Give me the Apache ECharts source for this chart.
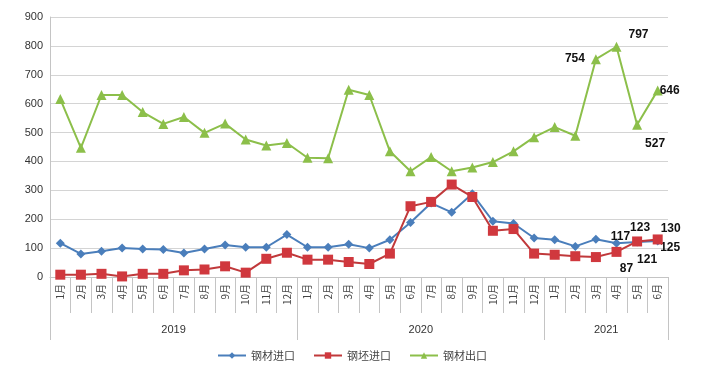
<!DOCTYPE html>
<html>
<head>
<meta charset="utf-8">
<script src="https://cdn.jsdelivr.net/npm/echarts@6/dist/echarts.min.js"></script>
<style>
html,body{margin:0;padding:0;background:#fff;}
#c{width:704px;height:380px;}
</style>
</head>
<body>
<div id="c"></div>
<script>
const months = ['1月','2月','3月','4月','5月','6月','7月','8月','9月','10月','11月','12月',
                '1月','2月','3月','4月','5月','6月','7月','8月','9月','10月','11月','12月',
                '1月','2月','3月','4月','5月','6月'];
const years = ['2019','2020','2021'];
const yearTickPos = [0, 12, 24, 30];
const yearLabelPos = [6, 18, 27];
const yTicks = [0,100,200,300,400,500,600,700,800,900];

const seriesNames = ['钢材进口','钢坯进口','钢材出口'];
const steelImport = [117,80,89,100,97,95,83,97,111,103,103,147,
                     103,103,113,100,129,189,256,224,288,193,185,135,
                     129,106,131,117,121,125];
const billetImport = [8,8,11,2,11,11,23,26,37,15,63,84,
                      60,60,52,45,81,245,260,320,277,160,166,81,
                      77,72,69,87,123,130];
const steelExport = [616,447,630,630,571,530,554,499,531,476,455,464,
                     413,411,648,630,435,366,415,366,379,398,435,484,
                     519,489,754,797,527,646];

const labelFont = {fontFamily:'Liberation Sans, Arial, sans-serif', fontWeight:'bold', fontSize:12, color:'#111'};

function withLabels(arr, cfg){
  return arr.map((v,i)=>{
    if(cfg[i]) return {value:v, label:Object.assign({show:true}, labelFont, cfg[i])};
    return v;
  });
}

const exportLabels = {
  26:{position:'left', distance:8, offset:[2,0]},
  27:{position:'top', distance:4, offset:[22,3]},
  28:{position:'bottom', distance:8, offset:[18,0]},
  29:{position:'right', distance:0, offset:[-3,0]}
};
const importLabels = {
  27:{position:'top', distance:1, offset:[4,5]},
  28:{position:'bottom', distance:7, offset:[10,0]},
  29:{position:'right', distance:2, offset:[-4,7]}
};
const billetLabels = {
  27:{position:'bottom', distance:6, offset:[10,0]},
  28:{position:'top', distance:6, offset:[3,3]},
  29:{position:'top', distance:4, offset:[13,4]}
};

const chart = echarts.init(document.getElementById('c'), null, {renderer:'canvas'});
const gray = '#c4c4c4';
const option = {
  animation:false,
  textStyle:{fontFamily:'Liberation Sans, "Noto Sans CJK SC", sans-serif'},
  grid:{left:50, right:36, top:17, bottom:103},
  legend:{
    bottom:14, left:'center', itemWidth:28, itemHeight:8, itemGap:18,
    textStyle:{fontSize:11, color:'#444', fontFamily:'"Noto Sans CJK SC", sans-serif'},
    data:seriesNames
  },
  xAxis:[
    {
      type:'category', data:months, boundaryGap:true,
      axisLine:{show:true, lineStyle:{color:gray, width:1}},
      axisTick:{show:true, interval:0, length:36, lineStyle:{color:gray}},
      axisLabel:{interval:0, rotate:90, fontSize:10, color:'#444', margin:7,
                 fontFamily:'"Noto Sans CJK SC", sans-serif'},
      splitLine:{show:false}
    },
    {
      type:'value', min:0, max:30, position:'bottom',
      axisLine:{show:false},
      axisTick:{show:true, customValues:yearTickPos, length:63, lineStyle:{color:gray}},
      axisLabel:{show:true, customValues:yearLabelPos, margin:47, fontSize:11, color:'#333',
                 formatter:function(v){ return years[yearLabelPos.indexOf(v)] || ''; }},
      splitLine:{show:false}
    }
  ],
  yAxis:{
    type:'value', min:yTicks[0], max:yTicks[yTicks.length-1], interval:100,
    axisLine:{show:true, lineStyle:{color:gray}},
    axisTick:{show:false},
    axisLabel:{fontSize:11, color:'#333', margin:7},
    splitLine:{lineStyle:{color:'#d4d4d4', width:1}}
  },
  series:[
    {
      name:seriesNames[0], type:'line', xAxisIndex:0,
      data:withLabels(steelImport, importLabels),
      symbol:'diamond', symbolSize:9,
      lineStyle:{color:'#4a7ebb', width:2}, itemStyle:{color:'#4a7ebb'},
      z:3
    },
    {
      name:seriesNames[1], type:'line', xAxisIndex:0,
      data:withLabels(billetImport, billetLabels),
      symbol:'rect', symbolSize:10,
      lineStyle:{color:'#c0393b', width:2}, itemStyle:{color:'#d0383e'},
      z:4
    },
    {
      name:seriesNames[2], type:'line', xAxisIndex:0,
      data:withLabels(steelExport, exportLabels),
      symbol:'triangle', symbolSize:10,
      lineStyle:{color:'#8cbf4a', width:2}, itemStyle:{color:'#8cbf4a'},
      z:2
    }
  ]
};
chart.setOption(option);
</script>
</body>
</html>
